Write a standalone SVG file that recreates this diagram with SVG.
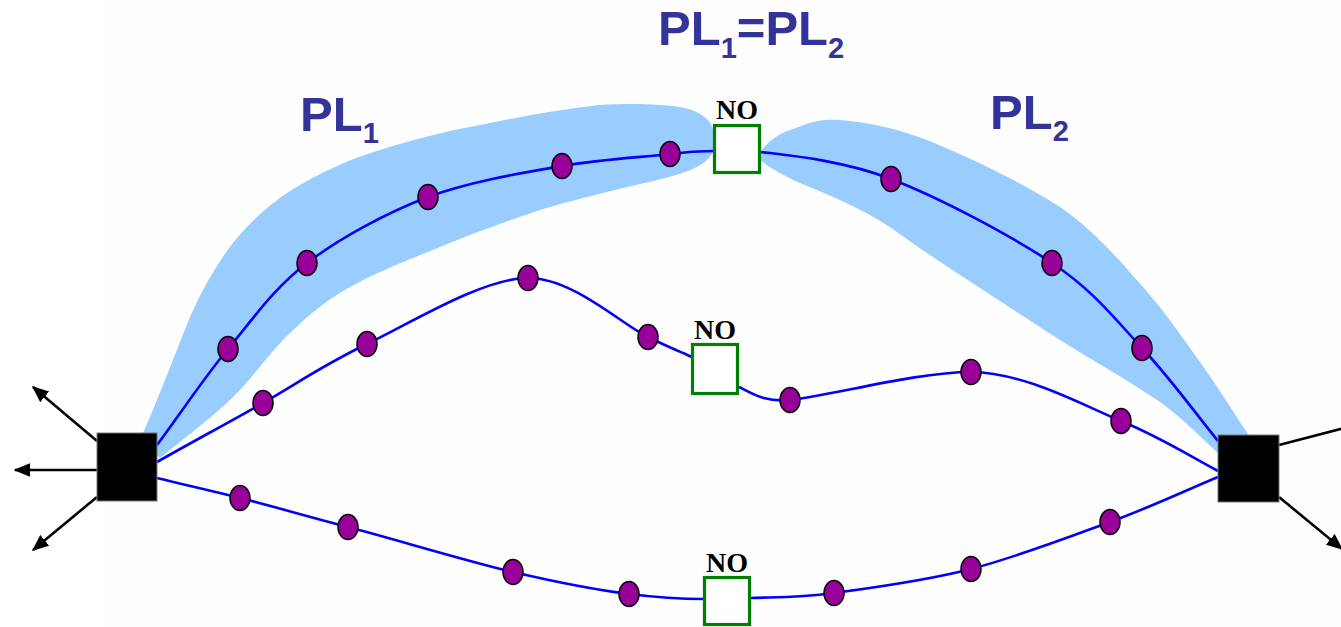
<svg xmlns="http://www.w3.org/2000/svg" width="1341" height="627" viewBox="0 0 1341 627">
  <defs>
    <marker id="arrowhead" viewBox="0 0 12 10" refX="11" refY="5" markerWidth="6.4" markerHeight="5.4" markerUnits="strokeWidth" orient="auto">
      <path d="M0,0 L12,5 L0,10 Z" fill="#000"/>
    </marker>
    <style>
      .band { fill: #99ccff; stroke: none; }
      .path { fill: none; stroke: #0000ff; stroke-width: 2.6; }
      .out { fill: none; stroke: #000; stroke-width: 2.6; marker-end: url(#arrowhead); }
      .hop { fill: #990099; stroke: #000; stroke-width: 1.5; }
      .blocked { fill: #fff; stroke: #008000; stroke-width: 3.2; }
      .router { fill: #000; stroke: #777; stroke-width: 1; }
      .no { font-family: "Liberation Serif", "Times New Roman", serif; font-weight: bold; font-size: 28px; fill: #000; text-anchor: middle; }
      .pl { font-family: "Liberation Sans", Arial, sans-serif; font-weight: bold; font-size: 49px; fill: #333399; }
      .sub { font-size: 29px; }
    </style>
  </defs>

  <!-- page background -->
  <rect x="0" y="0" width="1341" height="627" fill="#fff"/>
  <rect x="107" y="0" width="1234" height="627" fill="#fefefe"/>

  <!-- shaded path segments PL1 and PL2 -->
  <g id="band-pl1">
    <path class="band" d="M140,440 C152,413 163,385 173,360 C183,335 191,312 203,290 C215,268 228,247 245,229 C261,212 279,197 300,185 C324,171 350,159 380,150 C412,140 446,131 480,125 C520,117 560,109 600,105 C630,103 660,104 680,107 C696,110 706,116 711,124 C715,132 715,145 713,152 C708,162 697,168 685,172 C670,177 658,180 640,184 C607,192 573,200 540,210 C507,221 472,234 440,247 C408,260 375,273 350,287 C325,301 310,314 290,333 C270,352 252,379 230,400 C208,421 183,439 160,458 Z"/>
  </g>
  <g id="band-pl2">
    <path class="band" d="M760,152 C768,142 776,135 790,130 C804,125 817,118 840,120 C863,122 890,126 927,140 C964,155 1024,183 1060,207 C1096,232 1120,261 1143,287 C1166,313 1182,337 1200,362 C1218,387 1233,412 1250,437 L1228,462 C1205,442 1185,420 1160,402 C1128,380 1095,362 1060,340 C1015,311 972,283 930,255 C910,242 892,227 870,215 C846,202 822,192 800,183 C782,175 770,168 760,160 Z"/>
  </g>

  <!-- connectors: routes between the two end nodes -->
  <g id="connectors">
    <path class="path" d="M157,445 C181,413 203,379 228,349 C253,319 274,288 307,263 C340,238 386,213 428,197 C471,181 522,173 562,166 C602,159 645,157 670,154 C685,152 700,151 714,151"/>
    <path class="path" d="M761,152 C785,155 842,160 891,179 C940,198 1010,235 1052,263 C1094,291 1114,318 1142,348 C1170,378 1193,410 1218,441"/>
    <path class="path" d="M157,462 C192,442 228,423 263,403 C298,383 323,365 367,344 C411,323 483,278 528,278 C573,278 621,324 648,337 C670,348 677,350 692,357"/>
    <path class="path" d="M739,387 C755,395 765,402 790,400 C830,396 916,372 971,372 C1026,373 1080,404 1121,421 C1162,438 1186,454 1218,471"/>
    <path class="path" d="M157,478 C185,485 208,490 240,498 C272,506 302,515 348,527 C394,539 466,561 513,572 C560,583 597,590 629,594 C661,598 679,599 704,599"/>
    <path class="path" d="M750,598 C778,597 797,598 834,593 C871,588 925,581 971,569 C1017,557 1069,537 1110,522 C1151,507 1182,492 1218,477"/>
    <!-- outgoing links -->
    <line class="out" x1="97" y1="441" x2="33" y2="387"/>
    <line class="out" x1="97" y1="470" x2="15" y2="470"/>
    <line class="out" x1="97" y1="497" x2="33" y2="550"/>
    <line class="out" x1="1279" y1="445" x2="1364" y2="423"/>
    <line class="out" x1="1279" y1="497" x2="1342" y2="549"/>
  </g>

  <!-- end nodes -->
  <g id="node-left"><rect class="router" x="97" y="433" width="60" height="68"/></g>
  <g id="node-right"><rect class="router" x="1218" y="435" width="61" height="67"/></g>

  <!-- blocked nodes -->
  <g id="node-no-top">
    <rect class="blocked" x="714.5" y="125.5" width="45" height="47"/>
    <text class="no" x="737" y="119">NO</text>
  </g>
  <g id="node-no-middle">
    <rect class="blocked" x="692.5" y="344.5" width="45" height="49"/>
    <text class="no" x="715" y="339">NO</text>
  </g>
  <g id="node-no-bottom">
    <rect class="blocked" x="704.5" y="577.5" width="45" height="47"/>
    <text class="no" x="727" y="572">NO</text>
  </g>

  <!-- intermediate hops -->
  <g id="hops-top">
    <ellipse class="hop" cx="228" cy="349" rx="10" ry="12.5"/>
    <ellipse class="hop" cx="307" cy="263" rx="10" ry="12.5"/>
    <ellipse class="hop" cx="428" cy="197" rx="10" ry="12.5"/>
    <ellipse class="hop" cx="562" cy="166" rx="10" ry="12.5"/>
    <ellipse class="hop" cx="670" cy="154" rx="10" ry="12.5"/>
    <ellipse class="hop" cx="891" cy="179" rx="10" ry="12.5"/>
    <ellipse class="hop" cx="1052" cy="263" rx="10" ry="12.5"/>
    <ellipse class="hop" cx="1142" cy="348" rx="10" ry="12.5"/>
  </g>
  <g id="hops-middle">
    <ellipse class="hop" cx="263" cy="403" rx="10" ry="12.5"/>
    <ellipse class="hop" cx="367" cy="344" rx="10" ry="12.5"/>
    <ellipse class="hop" cx="528" cy="278" rx="10" ry="12.5"/>
    <ellipse class="hop" cx="648" cy="337" rx="10" ry="12.5"/>
    <ellipse class="hop" cx="790" cy="400" rx="10" ry="12.5"/>
    <ellipse class="hop" cx="971" cy="372" rx="10" ry="12.5"/>
    <ellipse class="hop" cx="1121" cy="421" rx="10" ry="12.5"/>
  </g>
  <g id="hops-bottom">
    <ellipse class="hop" cx="240" cy="498" rx="10" ry="12.5"/>
    <ellipse class="hop" cx="348" cy="527" rx="10" ry="12.5"/>
    <ellipse class="hop" cx="513" cy="572" rx="10" ry="12.5"/>
    <ellipse class="hop" cx="629" cy="594" rx="10" ry="12.5"/>
    <ellipse class="hop" cx="834" cy="593" rx="10" ry="12.5"/>
    <ellipse class="hop" cx="971" cy="569" rx="10" ry="12.5"/>
    <ellipse class="hop" cx="1110" cy="522" rx="10" ry="12.5"/>
  </g>

  <!-- labels -->
  <g id="labels">
    <text class="pl" x="658" y="45">PL<tspan class="sub" dy="13">1</tspan><tspan dy="-13">=PL</tspan><tspan class="sub" dy="13">2</tspan></text>
    <text class="pl" x="300" y="131">PL<tspan class="sub" dy="12">1</tspan></text>
    <text class="pl" x="990" y="129">PL<tspan class="sub" dy="12">2</tspan></text>
  </g>
</svg>
